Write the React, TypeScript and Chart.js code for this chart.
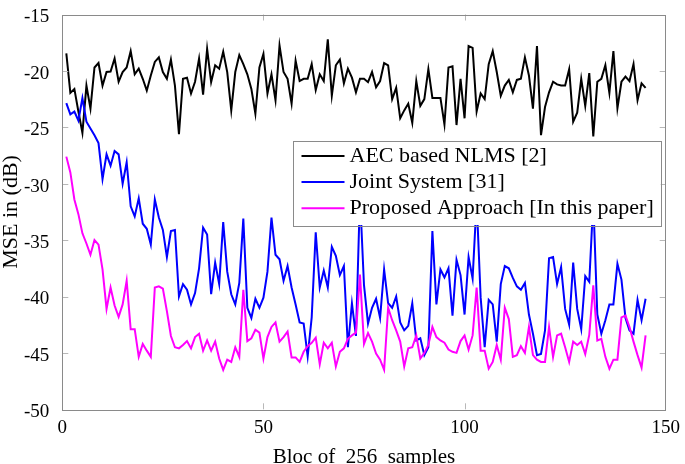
import React, { useEffect, useRef } from 'react';
import { Chart, registerables } from 'chart.js';

Chart.register(...registerables);

const FONT = "'Liberation Serif', 'Times New Roman', serif";

// Block index (x axis): blocs 1..145
const blocks: number[] = Array.from({ length: 145 }, (_, i) => i + 1);

const aecNlms: number[] = [
  -18.45, -21.95, -21.6, -23.6, -25.5, -21.3, -23.35, -19.7, -19.3, -21.3,
  -20.1, -20.06, -18.9, -20.96, -20.1, -19.7, -18.25, -20.3, -19.8, -20.7,
  -21.75, -20.4, -19.2, -18.8, -20.1, -20.7, -19.0, -21.3, -25.6, -20.7,
  -20.6, -22.0, -20.96, -18.9, -22.1, -18.05, -21.0, -19.5, -19.8, -18.3,
  -20.1, -23.5, -20.1, -18.6, -19.4, -20.3, -21.6, -23.8, -19.7, -18.5,
  -22.0, -20.3, -22.6, -17.75, -20.1, -20.7, -22.9, -19.1, -20.9, -20.7,
  -20.7, -19.4, -21.7, -20.3, -20.9, -17.2, -22.2, -19.5, -19.0, -21.1,
  -19.8, -20.6, -21.9, -20.7, -20.7, -21.0, -20.1, -21.45, -20.9, -19.3,
  -19.5, -22.5, -21.5, -24.2, -23.5, -22.9, -24.6, -20.9, -23.1, -22.5,
  -19.85, -22.4, -22.4, -22.4, -24.75, -19.7, -19.6, -24.8, -20.7, -24.2,
  -17.8, -17.96, -23.6, -22.0, -22.5, -19.4, -18.25, -20.1, -22.2, -21.3,
  -20.8, -21.9, -20.8, -20.7, -18.8, -20.4, -23.35, -17.8, -25.7, -23.2,
  -21.9, -20.96, -21.2, -21.3, -21.3, -19.85, -24.5, -23.7, -20.7, -23.1,
  -20.2, -25.8, -20.96, -20.7, -19.5, -21.95, -18.25, -23.3, -20.96, -20.5,
  -20.9, -19.4, -22.6, -21.1, -21.5,
];

const jointSystem: number[] = [
  -22.86, -23.85, -23.6, -24.4, -22.4, -24.5, -25.1, -25.7, -26.4, -29.6,
  -27.4, -28.4, -27.1, -27.4, -30.0, -28.1, -32.0, -32.9, -31.3, -33.55,
  -34.0, -35.4, -31.4, -33.0, -34.1, -36.5, -34.2, -34.1, -40.0, -38.9,
  -39.4, -40.7, -39.7, -37.5, -33.9, -34.5, -39.8, -37.0, -38.9, -33.4,
  -37.8, -39.8, -40.7, -38.8, -33.1, -41.0, -41.9, -40.2, -41.0, -40.1,
  -37.8, -33.0, -36.3, -36.7, -38.6, -37.3, -39.2, -40.7, -42.3, -42.4,
  -45.3, -41.85, -34.3, -39.2, -37.7, -39.2, -35.6, -36.4, -38.1, -37.3,
  -44.5, -40.6, -43.5, -31.0, -39.0, -42.4, -41.0, -40.2, -41.9, -37.6,
  -40.6, -41.0, -40.0, -42.3, -43.0, -42.6, -40.6, -43.9, -43.7, -45.2,
  -44.5, -34.2, -40.7, -37.6, -38.3, -37.5, -41.7, -36.75, -38.1, -41.6,
  -36.5, -38.4, -31.5, -40.1, -44.5, -40.3, -40.7, -44.0, -38.9, -37.3,
  -37.5, -38.35, -39.1, -39.4, -38.8, -41.6, -43.3, -45.2, -45.1, -43.0,
  -36.6, -36.5, -38.9, -37.4, -41.1, -42.5, -37.0, -41.1, -42.9, -38.2,
  -38.7, -31.5, -41.6, -43.3, -42.1, -40.7, -40.7, -37.1, -38.5, -41.9,
  -43.0, -43.3, -40.3, -42.1, -40.2,
];

const proposed: number[] = [
  -27.6, -29.0, -31.4, -32.7, -34.4, -35.3, -36.3, -35.0, -35.4, -37.6,
  -41.1, -39.2, -40.8, -41.8, -40.7, -38.6, -42.9, -42.9, -45.35, -44.2,
  -44.8, -45.35, -39.2, -39.1, -39.3, -41.3, -43.5, -44.5, -44.6, -44.3,
  -43.95, -44.6, -43.6, -43.3, -44.8, -43.9, -44.8, -44.0, -45.5, -46.5,
  -45.6, -45.8, -44.5, -45.35, -39.4, -43.95, -43.7, -42.95, -43.2, -45.5,
  -43.6, -42.7, -42.3, -44.0, -43.6, -43.1, -45.4, -45.4, -45.8, -44.9,
  -44.4, -44.1, -43.65, -46.0, -44.1, -44.6, -44.1, -46.2, -44.9, -44.6,
  -43.75, -43.45, -43.2, -38.06, -44.2, -43.25, -44.0, -45.05, -45.6, -46.5,
  -41.0, -42.1, -43.0, -44.0, -46.2, -44.6, -44.5, -43.45, -45.5, -45.0,
  -44.3, -42.7, -43.6, -43.9, -44.1, -44.7, -44.9, -45.0, -43.95, -43.45,
  -44.7, -43.45, -39.2, -44.8, -44.8, -46.4, -45.8, -44.3, -45.6, -41.0,
  -42.0, -45.35, -45.2, -44.4, -45.0, -42.7, -45.2, -45.6, -45.8, -45.8,
  -42.7, -45.35, -43.45, -43.3, -44.5, -45.8, -44.0, -44.3, -44.0, -45.1,
  -43.4, -39.0, -43.9, -43.75, -45.35, -46.4, -45.6, -45.6, -41.85, -41.7,
  -42.7, -44.0, -45.2, -46.3, -43.45,
];

const xTicks: number[] = [0, 50, 100, 150];
const yTicks: number[] = [-50, -45, -40, -35, -30, -25, -20, -15];
const seriesLabels: string[] = [
  'AEC based NLMS [2]',
  'Joint System [31]',
  'Proposed Approach [In this paper]',
];
const seriesColors: string[] = ['#000000', '#0000ff', '#ff00ff'];
const xTitle = 'Bloc of  256  samples';
const yTitle = 'MSE in (dB)';

const framePlugin = {
  id: 'matlabFrame',
  afterDraw(chart: any) {
    const { ctx, chartArea } = chart;
    const { left, right, top, bottom } = chartArea;
    const xs = chart.scales.x;
    const ys = chart.scales.y;
    ctx.save();
    // inward ticks
    ctx.strokeStyle = '#b8b8b8';
    ctx.lineWidth = 1;
    const tl = 6;
    ctx.beginPath();
    xTicks.forEach((v) => {
      const px = Math.round(xs.getPixelForValue(v)) + 0.5;
      if (px <= left + 1 || px >= right - 1) return;
      ctx.moveTo(px, bottom);
      ctx.lineTo(px, bottom - tl);
      ctx.moveTo(px, top);
      ctx.lineTo(px, top + tl);
    });
    yTicks.forEach((v) => {
      const py = Math.round(ys.getPixelForValue(v)) + 0.5;
      if (py <= top + 1 || py >= bottom - 1) return;
      ctx.moveTo(left, py);
      ctx.lineTo(left + tl, py);
      ctx.moveTo(right, py);
      ctx.lineTo(right - tl, py);
    });
    ctx.stroke();
    // frame
    ctx.strokeStyle = '#8a8a8a';
    ctx.strokeRect(Math.round(left) + 0.5, Math.round(top) + 0.5, Math.round(right - left), Math.round(bottom - top));

    // legend
    const lx = 292.5;
    const lRight = right - 5;
    const ly = top + 126;
    const lw = lRight - lx;
    const lh = 84.5;
    ctx.fillStyle = '#ffffff';
    ctx.fillRect(lx, ly, lw, lh);
    ctx.strokeStyle = '#8a8a8a';
    ctx.lineWidth = 1;
    ctx.strokeRect(Math.round(lx) + 0.5, Math.round(ly) + 0.5, Math.round(lw), Math.round(lh));
    ctx.font = `22px ${FONT}`;
    ctx.textBaseline = 'middle';
    ctx.textAlign = 'left';
    chart.data.datasets.forEach((ds: any, i: number) => {
      const rowY = ly + 15.5 + i * 26.1;
      ctx.strokeStyle = ds.borderColor;
      ctx.lineWidth = 2;
      ctx.beginPath();
      ctx.moveTo(lx + 9, rowY);
      ctx.lineTo(lx + 52, rowY);
      ctx.stroke();
      ctx.fillStyle = '#000000';
      ctx.fillText(ds.label, lx + 57, rowY);
    });
    ctx.restore();
  },
};

export default function App() {
  const canvasRef = useRef<HTMLCanvasElement | null>(null);

  useEffect(() => {
    document.body.style.margin = '0';
    const canvas = canvasRef.current;
    if (!canvas) return;
    const seriesValues = [aecNlms, jointSystem, proposed];
    const chart = new Chart(canvas, {
      type: 'line',
      data: {
        datasets: seriesValues.map((vals, i) => ({
          label: seriesLabels[i],
          data: vals.map((v, k) => ({ x: blocks[k], y: v })),
          borderColor: seriesColors[i],
          backgroundColor: seriesColors[i],
          borderWidth: 2,
          pointRadius: 0,
          tension: 0,
          fill: false,
          order: seriesValues.length - i,
        })),
      },
      options: {
        animation: false,
        responsive: false,
        devicePixelRatio: 1,
        layout: { padding: { left: 0, right: 19.3, top: 9.5, bottom: 0 } },
        plugins: {
          legend: { display: false },
          tooltip: { enabled: false },
        },
        scales: {
          x: {
            type: 'linear',
            min: 0,
            max: 150,
            afterBuildTicks: (scale: any) => {
              scale.ticks = xTicks.map((v) => ({ value: v }));
            },
            afterFit: (scale: any) => {
              scale.height = 54.7;
            },
            grid: { display: false },
            border: { display: false },
            ticks: {
              color: '#000',
              padding: -1,
              maxRotation: 0,
              font: { family: FONT, size: 19, lineHeight: 1.2 },
              callback: (v: any) => String(v),
            },
            title: {
              display: true,
              text: xTitle,
              color: '#000',
              font: { family: FONT, size: 21, lineHeight: 1.2 },
              padding: { top: 0, bottom: -6.5 },
            },
          },
          y: {
            type: 'linear',
            min: -50,
            max: -15,
            afterBuildTicks: (scale: any) => {
              scale.ticks = yTicks.map((v) => ({ value: v }));
            },
            afterFit: (scale: any) => {
              scale.width = 62.3;
            },
            grid: { display: false },
            border: { display: false },
            ticks: {
              color: '#000',
              padding: 5,
              labelOffset: 3,
              font: { family: FONT, size: 19, lineHeight: 1 },
              callback: (v: any) => String(v),
            },
            title: {
              display: true,
              text: yTitle,
              color: '#000',
              font: { family: FONT, size: 22, lineHeight: 1.1 },
              padding: { top: -1, bottom: 0 },
            },
          },
        },
      },
      plugins: [framePlugin],
    });
    return () => {
      chart.destroy();
    };
  }, []);

  return (
    <div style={{ width: 685, height: 464, background: '#fff' }}>
      <canvas ref={canvasRef} width={685} height={464} style={{ display: 'block', width: 685, height: 464 }} />
    </div>
  );
}
